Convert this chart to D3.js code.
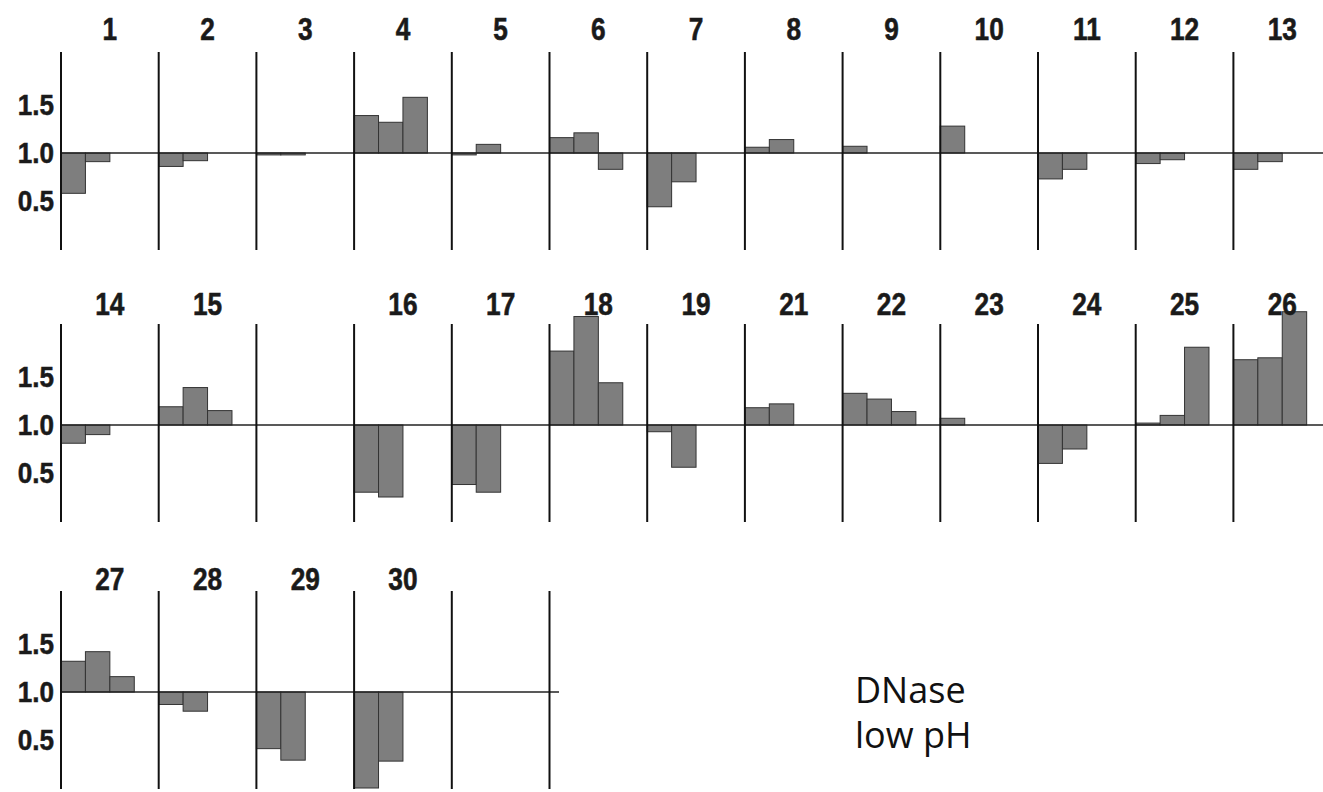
<!DOCTYPE html>
<html>
<head>
<meta charset="utf-8">
<script src="https://cdn.jsdelivr.net/npm/d3@7"></script>
<style>
  html, body { margin: 0; padding: 0; background: #fff; }
  svg { display: block; }
</style>
</head>
<body>
<svg id="chart"></svg>
<script>
// panel numbers per row ("" = empty panel)
var row1Labels = ["1", "2", "3", "4", "5", "6", "7", "8", "9", "10", "11", "12", "13"];
var row2Labels = ["14", "15", "", "16", "17", "18", "19", "21", "22", "23", "24", "25", "26"];
var row3Labels = ["27", "28", "29", "30", ""];

// relative values (1.0 = unchanged), up to three bars per panel
var row1Values = [
  [0.58, 0.91], [0.86, 0.92], [0.98, 0.98], [1.39, 1.32, 1.58], [0.98, 1.09],
  [1.16, 1.21, 0.83], [0.44, 0.70], [1.06, 1.14], [1.07], [1.28],
  [0.73, 0.83], [0.89, 0.93], [0.83, 0.91]
];
var row2Values = [
  [0.81, 0.90], [1.19, 1.39, 1.15], [], [0.30, 0.25], [0.38, 0.30],
  [1.77, 2.13, 1.44], [0.93, 0.56], [1.18, 1.22], [1.33, 1.27, 1.14], [1.07],
  [0.60, 0.75], [1.02, 1.10, 1.81], [1.68, 1.70, 2.18]
];
var row3Values = [
  [1.32, 1.42, 1.16], [0.87, 0.80], [0.41, 0.29], [0.0, 0.28], []
];

var tickValues = [1.5, 1.0, 0.5];
var tickLabels = ["1.5", "1.0", "0.5"];

var W = 1323, H = 792;
var LEFT = 61, COL_W = 97.7;
var svg = d3.select("#chart").attr("width", W).attr("height", H);

var colX = d3.scaleLinear().domain([0, 13]).range([LEFT, LEFT + 13 * COL_W]);
var barX = d3.scaleBand().domain([0, 1, 2, 3]).range([0, COL_W]).padding(0);

var rows = [
  { labels: row1Labels, values: row1Values, base: 153, labelY: 40, lines: 13, lineEnd: W },
  { labels: row2Labels, values: row2Values, base: 425, labelY: 315, lines: 13, lineEnd: W },
  { labels: row3Labels, values: row3Values, base: 692, labelY: 590, lines: 6, lineEnd: 559 }
];

var NUM_FONT = "'Liberation Sans', Arial, sans-serif";

rows.forEach(function(row) {
  var y = d3.scaleLinear().domain([0, 2]).range([row.base + 96, row.base - 96]);
  var g = svg.append("g");

  // bars
  row.values.forEach(function(vals, ci) {
    g.selectAll(null).data(vals).enter().append("rect")
      .attr("x", function(d, i) { return colX(ci) + barX(i); })
      .attr("width", barX.bandwidth())
      .attr("y", function(d) { return y(Math.max(d, 1)); })
      .attr("height", function(d) { return Math.abs(y(d) - y(1)); })
      .attr("fill", "#7e7e7e")
      .attr("stroke", "#333")
      .attr("stroke-width", 1);
  });

  // baseline at 1.0
  g.append("line")
    .attr("x1", LEFT - 1).attr("x2", row.lineEnd)
    .attr("y1", y(1)).attr("y2", y(1))
    .attr("stroke", "#222").attr("stroke-width", 1.6);

  // panel separators
  g.selectAll(null).data(d3.range(row.lines)).enter().append("line")
    .attr("x1", function(d) { return colX(d); })
    .attr("x2", function(d) { return colX(d); })
    .attr("y1", y(1) - 101)
    .attr("y2", y(1) + 97)
    .attr("stroke", "#111").attr("stroke-width", 2);

  // panel numbers
  g.selectAll(null).data(row.labels).enter().append("text")
    .attr("transform", function(d, i) {
      return "translate(" + (colX(i) + COL_W / 2) + "," + row.labelY + ") scale(0.82,1)";
    })
    .attr("text-anchor", "middle")
    .attr("font-family", NUM_FONT)
    .attr("font-weight", "bold")
    .attr("font-size", 32)
    .attr("fill", "#1a1a1a")
    .attr("stroke", "#1a1a1a")
    .attr("stroke-width", 0.6)
    .text(function(d) { return d; });

  // y tick labels
  g.selectAll(null).data(tickValues).enter().append("text")
    .attr("transform", function(d) { return "translate(54," + y(d) + ") scale(0.9,1)"; })
    .attr("dy", "0.36em")
    .attr("text-anchor", "end")
    .attr("font-family", NUM_FONT)
    .attr("font-weight", "bold")
    .attr("font-size", 29)
    .attr("fill", "#1a1a1a")
    .attr("stroke", "#1a1a1a")
    .attr("stroke-width", 0.5)
    .text(function(d, i) { return tickLabels[i]; });
});

// condition label
var note = svg.append("text")
  .attr("x", 855).attr("y", 703)
  .attr("font-family", "'Open Sans', 'Noto Sans', sans-serif")
  .attr("font-size", 36)
  .attr("fill", "#111");
note.append("tspan").attr("x", 855).text("DNase");
note.append("tspan").attr("x", 855).attr("dy", 45).text("low pH");
</script>
</body>
</html>
